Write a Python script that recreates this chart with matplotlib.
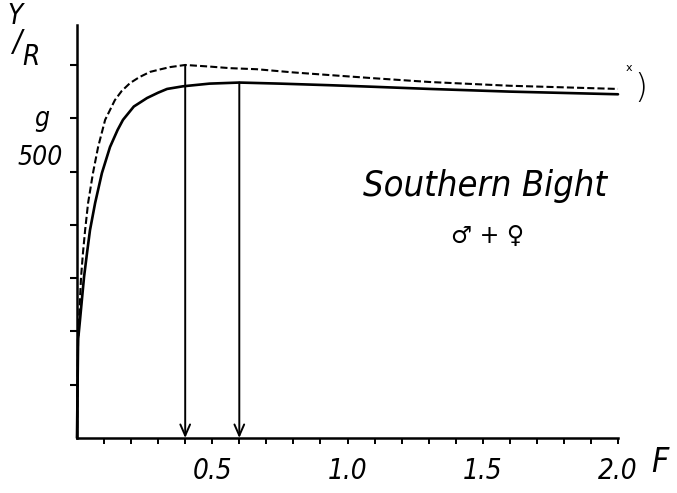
import numpy as np
import matplotlib
matplotlib.use("Agg")
import matplotlib.pyplot as plt

# yield per recruit (g) against fishing mortality F
f_solid = [0.0, 0.004, 0.011, 0.018, 0.026, 0.037, 0.048, 0.067, 0.092, 0.122, 0.150,
           0.17, 0.21, 0.259, 0.30, 0.333, 0.392, 0.49, 0.60, 0.75, 0.935, 1.1,
           1.305, 1.6, 2.0]
y_solid = [0, 184, 221, 259, 302, 347, 390, 441, 497, 546, 578,
           597, 622, 638, 648, 655, 660, 665, 667, 665, 662, 659,
           655, 650, 645]

f_dash = [0.0, 0.004, 0.010, 0.015, 0.022, 0.030, 0.041, 0.059, 0.078, 0.104, 0.14,
          0.165, 0.196, 0.23, 0.27, 0.31, 0.344, 0.40, 0.49, 0.566, 0.665, 0.8,
          0.935, 1.1, 1.305, 1.6, 2.0]
y_dash = [0, 184, 250, 302, 347, 390, 441, 497, 546, 597, 634,
          651, 666, 677, 687, 692, 696, 700, 697, 694, 692, 686,
          681, 675, 668, 661, 655]

f_max_dash = 0.4
f_max_solid = 0.6

x_minor = np.round(np.arange(0.1, 2.01, 0.1), 1)
x_major = [0.5, 1.0, 1.5, 2.0]
x_labels = ["0.5", "1.0", "1.5", "2.0"]
y_ticks = [100, 200, 300, 400, 500, 600, 700]

W, H = 677, 493
def px(x, y):
    return x / W, 1 - y / H

font = dict(family="DejaVu Sans", style="italic", stretch="condensed")

fig = plt.figure(figsize=(W / 100, H / 100), dpi=100)
ax = fig.add_axes([77 / W, 1 - 438 / H, 541 / W, 413 / H])

ax.plot(f_solid, y_solid, color="black", lw=1.9, solid_capstyle="round", clip_on=False)
ax.plot(f_dash, y_dash, color="black", lw=1.5, dashes=(3.4, 1.5), clip_on=False)

# arrows down to the F of maximum yield
for fm, ff, yy in [(f_max_dash, f_dash, y_dash), (f_max_solid, f_solid, y_solid)]:
    top = np.interp(fm, ff, yy)
    ax.annotate("", xy=(fm, 0), xytext=(fm, top),
                arrowprops=dict(arrowstyle="->,head_length=0.8,head_width=0.35",
                                color="black", lw=1.4, shrinkA=0, shrinkB=0))

ax.set_xlim(0, 2.0)
ax.set_ylim(0, 775)
for s in ["top", "right"]:
    ax.spines[s].set_visible(False)
for s in ["left", "bottom"]:
    ax.spines[s].set_linewidth(1.8)

ax.set_xticks(x_major)
ax.set_xticklabels(x_labels, fontsize=20, **font)
ax.set_xticks(x_minor, minor=True)
ax.tick_params(axis="x", which="both", direction="out", length=4.5, width=1.4, pad=9)
ax.set_yticks(y_ticks)
ax.set_yticklabels([])
ax.tick_params(axis="y", direction="out", length=4.8, width=1.5)

# axis annotations
fig.text(*px(660, 462), "F", fontsize=24, ha="center", va="center", **font)
fig.text(*px(15, 16), "Y", fontsize=20, ha="center", va="center", **font)
fig.text(*px(17, 42), "/", fontsize=22, ha="center", va="center", **font)
fig.text(*px(31, 57), "R", fontsize=20, ha="center", va="center", **font)
fig.text(*px(42, 119), "g", fontsize=19, ha="center", va="center", **font)
fig.text(*px(63, 158), "500", fontsize=19, ha="right", va="center", **font)

fig.text(*px(485, 186), "Southern Bight", fontsize=26, ha="center", va="center",
         fontweight="light", **font)
fig.text(*px(488, 236), "\u2642 + \u2640", fontsize=17, ha="center", va="center",
         family="DejaVu Sans")
fig.text(*px(629, 68), "x", fontsize=8, ha="center", va="center", family="DejaVu Sans")
fig.text(*px(641, 89), ")", fontsize=24, ha="center", va="center",
         family="DejaVu Sans", fontweight="light")

fig.savefig("out.png", dpi=100)
